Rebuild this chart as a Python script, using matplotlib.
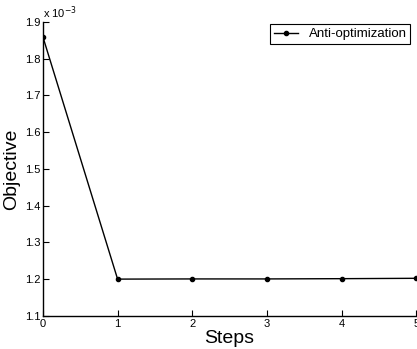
import matplotlib
matplotlib.use("Agg")
import matplotlib.pyplot as plt

plt.rcParams['font.family'] = ['Liberation Sans', 'DejaVu Sans']

# objective values are in units of 1e-3
steps = [0, 1, 2, 3, 4, 5]
objective = [1.859, 1.200, 1.2005, 1.2005, 1.2012, 1.2022]
xticks = [0, 1, 2, 3, 4, 5]
yticks = [1.1, 1.2, 1.3, 1.4, 1.5, 1.6, 1.7, 1.8, 1.9]

fig = plt.figure(figsize=(4.17, 3.49), dpi=100)
ax = fig.add_axes([0.103, 0.095, 0.895, 0.842])

ax.plot(steps, objective, color='black', lw=1.0, marker='o', ms=3,
        label='Anti-optimization')

ax.set_xlim(0, 5)
ax.set_ylim(1.1, 1.9)
ax.set_xticks(xticks)
ax.set_yticks(yticks)
ax.set_yticklabels([f'{v:.1f}' for v in yticks])
ax.tick_params(direction='in', length=4, width=0.8, labelsize=8, pad=2)
for side in ['top', 'right']:
    ax.spines[side].set_visible(False)
for side in ['left', 'bottom']:
    ax.spines[side].set_linewidth(1.0)

ax.set_xlabel('Steps', fontsize=14, labelpad=1)
ax.set_ylabel('Objective', fontsize=14, labelpad=3)
ax.text(0.0, 1.005, r'x 10$^{-3}$', transform=ax.transAxes, fontsize=8,
        ha='left', va='bottom')

leg = ax.legend(loc='upper right', fontsize=9.5, frameon=True, fancybox=False,
                edgecolor='black', framealpha=1, handlelength=1.8,
                borderpad=0.3, borderaxespad=0.15, bbox_to_anchor=(0.99, 1.0))
leg.get_frame().set_linewidth(0.8)

fig.savefig('out.png', dpi=100)
